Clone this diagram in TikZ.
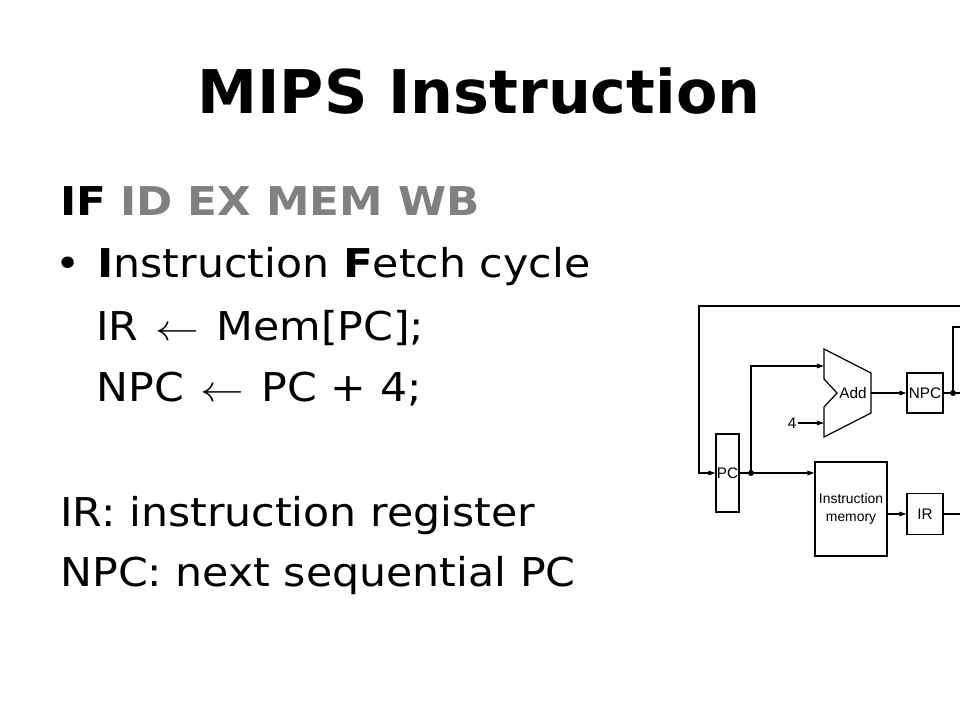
\documentclass[tikz,border=0pt]{standalone}
\usepackage{fontspec}
\setmainfont{DejaVu Sans}[FakeStretch=1.075, BoldFeatures={FakeStretch=1.1}]
\newfontfamily\titlefont{DejaVu Sans}
\newfontfamily\figfont{Liberation Sans}
\usetikzlibrary{arrows.meta,positioning}
\definecolor{stageGray}{HTML}{808080}
\newcommand{\getsarrow}{\hspace{2pt}\scalebox{1.2}[1]{$\leftarrow$}\hspace{2pt}}

\tikzset{
	line/.style={line width=0.7pt},
	conn/.style={line, -{Triangle[length=4pt,width=2.6pt]}},
	unit/.style={draw, line, inner sep=0pt, font=\figfont\fontsize{8.7}{10}\selectfont},
	txt/.style={anchor=base west, inner sep=0pt, font=\fontsize{22.6}{26}\selectfont},
	junction/.style={circle, fill, inner sep=0pt, minimum size=3.4pt}
}

\begin{document}
\begin{tikzpicture}[x=0.02cm, y=-0.02cm]
	\useasboundingbox (0,0) rectangle (960,720);

	\node[anchor=base, inner sep=0pt, font=\titlefont\bfseries\fontsize{34.3}{40}\selectfont] (title) at (479,113) {MIPS Instruction};

	\node[txt] (stages) at (60,215) {\textbf{IF} \textcolor{stageGray}{\textbf{ID EX MEM WB}}};
	\node[txt] (fetch)  at (97,277) {\textbf{I}nstruction \textbf{F}etch cycle};
	\node[txt, anchor=base east] (bullet) at (81,277) {•};
	\node[txt] (irline)  at (96,340) {IR \getsarrow{} Mem[PC];};
	\node[txt] (npcline) at (96,401) {NPC \getsarrow{} PC + 4;};
	\node[txt] (irdef)   at (60,526) {IR: instruction register};
	\node[txt] (npcdef)  at (60,586) {NPC: next sequential PC};

	\node[unit, minimum width=0.46cm, minimum height=1.56cm] (pc)   at (727.5,473) {PC};
	\node[unit, minimum width=0.72cm, minimum height=0.8cm]  (npc)  at (925,393) {NPC};
	\node[unit, minimum width=0.72cm, minimum height=0.82cm] (ir)   at (925,514) {IR};
	\node[unit, minimum width=1.44cm, minimum height=1.88cm, align=center,
		font=\figfont\fontsize{7.9}{10}\selectfont] (imem) at (851,509) {Instruction\\memory};

	\draw[line] (824,349) -- (871,373) -- (871,413) -- (824,437) -- (824,407) -- (837,393) -- (824,379) -- cycle;
	\node[font=\figfont\fontsize{8.7}{10}\selectfont, inner sep=0pt] (add) at (853,393) {Add};
	\coordinate (addA) at (824,366);
	\coordinate (addB) at (824,423);
	\coordinate (addOut) at (871,393);
	\node[font=\figfont\fontsize{8.7}{10}\selectfont, inner sep=1pt] (four) at (792,423) {4};

	\coordinate (pcfork) at (751,473);
	\coordinate (npcfork) at (953,393);
	\coordinate (loopL) at (699,306);
	\coordinate (loopR) at (960,306);
	\node[junction] at (pcfork) {};
	\node[junction] at (npcfork) {};

	\draw[line] (pc.east) -- (pcfork);
	\draw[conn] (pcfork) -- (pcfork -| imem.west);
	\draw[conn] (pcfork) |- (addA);
	\draw[conn] (four) -- (addB);
	\draw[conn] (addOut) -- (npc.west);
	\draw[line] (npc.east) -- (960,393);
	\draw[line] (npcfork) |- (960,327);
	\draw[conn] (imem.east |- ir.west) -- (ir.west);
	\draw[line] (ir.east) -- (960,514);
	\draw[conn] (loopR) -- (loopL) |- (pc.west);
\end{tikzpicture}
\end{document}
